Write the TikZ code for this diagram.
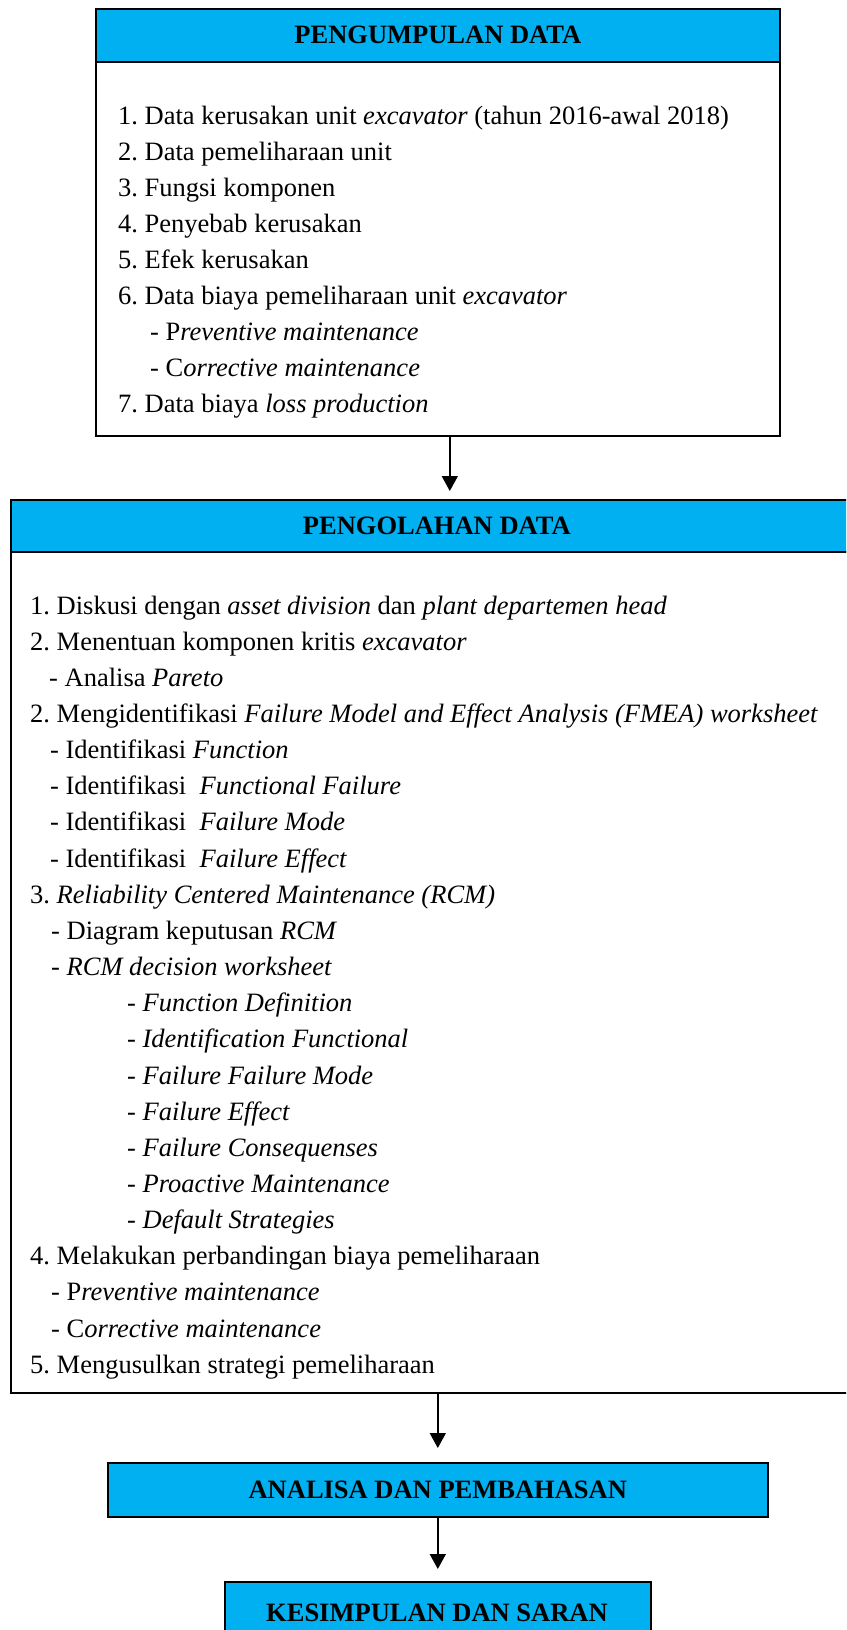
\documentclass[tikz,border=0pt]{standalone}
\usepackage{fontspec}
\setmainfont{Liberation Serif}
\usetikzlibrary{arrows.meta,calc}
\definecolor{hdrblue}{HTML}{00B0F0}
\frenchspacing
\begin{document}
\begin{tikzpicture}[x=1pt,y=-1pt,
  hdr/.style={draw=black, line width=1.6pt, fill=hdrblue, rectangle, inner sep=0pt,
    anchor=north west, font=\fontsize{26.5}{30}\selectfont\bfseries},
  bodybox/.style={draw=black, line width=1.6pt, fill=white, rectangle, inner sep=0pt, anchor=north west},
  ln/.style={anchor=base west, inner sep=0pt, font=\fontsize{26.5}{30}\selectfont\frenchspacing},
  arr/.style={line width=1.6pt, -{Triangle[length=15pt,width=16pt]}}]
\useasboundingbox (0,0) rectangle (846,1630);
\clip (0,0) rectangle (846,1630);

% ---------- PENGUMPULAN DATA ----------
\node[bodybox, minimum width=684, minimum height=374] (b1) at (95,61) {};
\node[hdr, minimum width=684, minimum height=53] (h1) at (95,8) {PENGUMPULAN DATA};
\node[ln] (t1a) at (118,124) {1. Data kerusakan unit \textit{excavator} (tahun 2016-awal 2018)};
\node[ln] (t1b) at (118,160) {2. Data pemeliharaan unit};
\node[ln] (t1c) at (118,196) {3. Fungsi komponen};
\node[ln] (t1d) at (118,232) {4. Penyebab kerusakan};
\node[ln] (t1e) at (118,268) {5. Efek kerusakan};
\node[ln] (t1f) at (118,304) {6. Data biaya pemeliharaan unit \textit{excavator}};
\node[ln] (t1g) at (150,340) {- P\textit{reventive maintenance}};
\node[ln] (t1h) at (150,376) {- C\textit{orrective maintenance}};
\node[ln] (t1i) at (118,412) {7. Data biaya \textit{loss production}};

% ---------- PENGOLAHAN DATA ----------
\node[bodybox, minimum width=852, minimum height=841] (b2) at (10,551) {};
\node[hdr, minimum width=852, minimum height=52] (h2) at (10,499) {PENGOLAHAN DATA};
\node[ln] (m01) at (30,614.0) {1. Diskusi dengan \textit{asset division} dan \textit{plant departemen head}};
\node[ln] (m02) at (30,650.2) {2. Menentuan komponen kritis \textit{excavator}};
\node[ln] (m03) at (49,686.3) {- Analisa \textit{Pareto}};
\node[ln] (m04) at (30,722.5) {2. Mengidentifikasi \textit{Failure Model and Effect Analysis (FMEA) worksheet}};
\node[ln] (m05) at (50,758.6) {- Identifikasi \textit{Function}};
\node[ln] (m06) at (50,794.8) {- Identifikasi\ \ \textit{Functional Failure}};
\node[ln] (m07) at (50,830.9) {- Identifikasi\ \ \textit{Failure Mode}};
\node[ln] (m08) at (50,867.1) {- Identifikasi\ \ \textit{Failure Effect}};
\node[ln] (m09) at (30,903.2) {3. \textit{Reliability Centered Maintenance (RCM)}};
\node[ln] (m10) at (51,939.4) {- Diagram keputusan \textit{RCM}};
\node[ln] (m11) at (51,975.5) {- \textit{RCM decision worksheet}};
\node[ln] (m12) at (127,1011.7) {- \textit{Function Definition}};
\node[ln] (m13) at (127,1047.8) {- \textit{Identification Functional}};
\node[ln] (m14) at (127,1084.0) {- \textit{Failure Failure Mode}};
\node[ln] (m15) at (127,1120.1) {- \textit{Failure Effect}};
\node[ln] (m16) at (127,1156.3) {- \textit{Failure Consequenses}};
\node[ln] (m17) at (127,1192.4) {- \textit{Proactive Maintenance}};
\node[ln] (m18) at (127,1228.6) {- \textit{Default Strategies}};
\node[ln] (m19) at (30,1264.7) {4. Melakukan perbandingan biaya pemeliharaan};
\node[ln] (m20) at (51,1300.9) {- P\textit{reventive maintenance}};
\node[ln] (m21) at (51,1337.0) {- C\textit{orrective maintenance}};
\node[ln] (m22) at (30,1373.2) {5. Mengusulkan strategi pemeliharaan};

% ---------- ANALISA / KESIMPULAN ----------
\node[hdr, minimum width=660, minimum height=54] (h3) at (107,1462) {ANALISA DAN PEMBAHASAN};
\node[hdr, minimum width=426, minimum height=64] (h4) at (224,1581) {};
\node[anchor=center, inner sep=0pt, font=\fontsize{26.5}{30}\selectfont\bfseries] (h4t) at (437,1613) {KESIMPULAN DAN SARAN};

% ---------- arrows ----------
\draw[arr, shorten >=8pt] ([xshift=12pt]b1.south) -- ([xshift=12pt]b1.south |- h2.north);
\draw[arr, shorten >=14pt] (b2.south -| h3.north) -- (h3.north);
\draw[arr, shorten >=12pt] (h3.south) -- (h4.north);
\end{tikzpicture}
\end{document}
